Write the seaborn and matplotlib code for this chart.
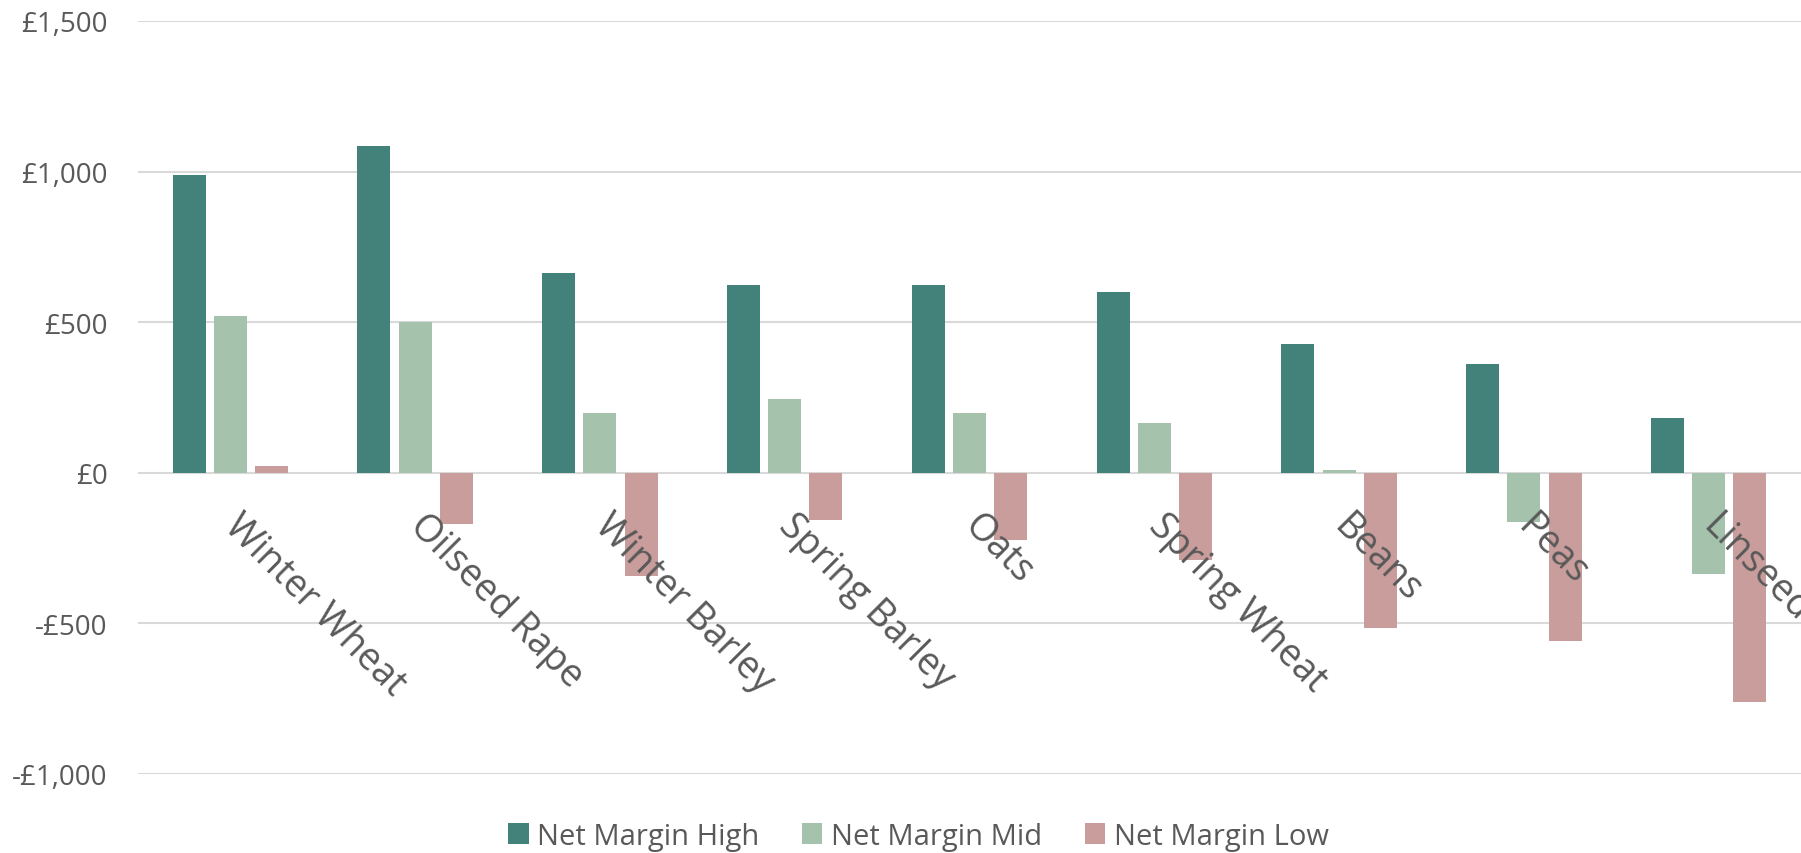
import pandas as pd
import numpy as np
import matplotlib
matplotlib.use('Agg')
import matplotlib.pyplot as plt
import seaborn as sns
from matplotlib.ticker import FuncFormatter

# Net margin per crop (£/ha)
crops = ['Winter Wheat', 'Oilseed Rape', 'Winter Barley', 'Spring Barley', 'Oats',
         'Spring Wheat', 'Beans', 'Peas', 'Linseed']
margin_high = [990, 1085, 665, 625, 625, 600, 427, 360, 181]
margin_mid = [520, 500, 200, 245, 200, 165, 8, -163, -337]
margin_low = [21, -170, -343, -157, -223, -290, -515, -560, -760]
series_names = ['Net Margin High', 'Net Margin Mid', 'Net Margin Low']
colors = ['#43827A', '#A5C2AD', '#C89D9B']

text_grey = '#595959'
grid_grey = '#D9D9D9'

sns.set_style('white')
plt.rcParams['font.family'] = ['Open Sans', 'DejaVu Sans']

# Long format for seaborn
df = pd.DataFrame({
    'Crop': crops * 3,
    'Series': np.repeat(series_names, len(crops)),
    'Margin': margin_high + margin_mid + margin_low,
})

fig = plt.figure(figsize=(18.01, 8.54), dpi=100)
ax = fig.add_axes([138 / 1801, 79 / 854, 1663 / 1801, 753 / 854])

sns.barplot(data=df, x='Crop', y='Margin', hue='Series', order=crops,
            hue_order=series_names, palette=colors, width=0.67, gap=0.2,
            saturation=1, linewidth=0, ax=ax)

ax.set_ylim(-1000, 1500)
ax.set_xlim(-0.5, len(crops) - 0.5)
ax.set_yticks([-1000, -500, 0, 500, 1000, 1500])
ax.yaxis.set_major_formatter(FuncFormatter(
    lambda v, _: f'-£{abs(v):,.0f}' if v < 0 else f'£{v:,.0f}'))
ax.grid(True, axis='y', color=grid_grey, linewidth=1.5)
ax.grid(False, axis='x')
ax.set_axisbelow(True)
ax.xaxis.set_zorder(5)   # crop names sit on top of the bars
for s in ax.spines.values():
    s.set_visible(False)

ax.set_xlabel('')
ax.set_ylabel('')
ax.tick_params(axis='y', length=0, pad=22, labelsize=20, labelcolor=text_grey)

# category labels hang from the zero line
ax.spines['bottom'].set_position(('data', 0))
ax.tick_params(axis='x', length=0, pad=34, labelsize=27, labelcolor=text_grey)
plt.setp(ax.get_xticklabels(), rotation=-45, ha='left', va='center',
         rotation_mode='anchor')

handles, labels = ax.get_legend_handles_labels()
ax.get_legend().remove()
fig.legend(handles, labels, loc='lower center', bbox_to_anchor=(0.51, -0.028),
           ncol=3, frameon=False, fontsize=21, labelcolor=text_grey,
           handlelength=0.7, handleheight=0.7, handletextpad=0.3,
           columnspacing=1.45)

plt.savefig('out.png', dpi=100)
plt.close()
